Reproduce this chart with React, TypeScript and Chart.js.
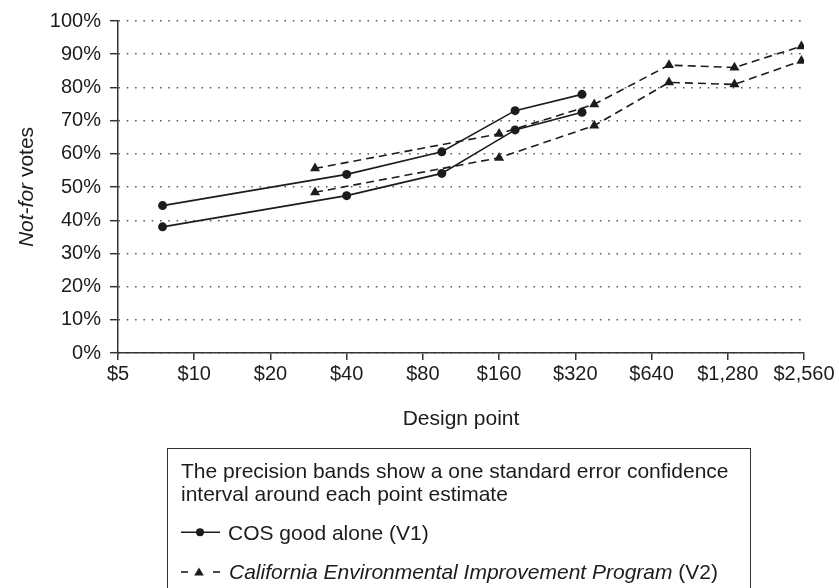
import React, { useEffect, useRef } from "react";
import { Chart, registerables } from "chart.js";

Chart.register(...registerables);

const FONT = "'Liberation Sans', Arial, Helvetica, sans-serif";

// Design points (dollars) and Not-for vote shares (%)
const xTickValues = [5, 10, 20, 40, 80, 160, 320, 640, 1280, 2560];
const yTickValues = [0, 10, 20, 30, 40, 50, 60, 70, 80, 90, 100];

const v1X = [7.5, 40, 95, 185, 340];
const v1Upper = [44.4, 53.8, 60.6, 73.0, 77.9];
const v1Lower = [38.0, 47.4, 54.1, 67.2, 72.5];

const v2X = [30, 160, 380, 750, 1360, 2500];
const v2Upper = [55.6, 66.0, 74.9, 86.7, 86.0, 92.4];
const v2Lower = [48.4, 58.8, 68.5, 81.5, 80.9, 88.0];

const legendNote1 = "The precision bands show a one standard error confidence";
const legendNote2 = "interval around each point estimate";
const legendV1 = "COS good alone (V1)";
const legendV2Italic = "California Environmental Improvement Program";
const legendV2Rest = " (V2)";

const INK = "#1c1c1c";

const titlesPlugin = {
  id: "axisTitles",
  afterDraw(chart: any) {
    const ctx = chart.ctx;
    const area = chart.chartArea;
    ctx.save();
    ctx.fillStyle = INK;
    // x title
    ctx.font = `21px ${FONT}`;
    ctx.textAlign = "center";
    ctx.textBaseline = "alphabetic";
    ctx.fillText("Design point", (area.left + area.right) / 2, 425);
    // y title (mixed italic)
    const cy = 187;
    ctx.translate(33, cy);
    ctx.rotate(-Math.PI / 2);
    ctx.textAlign = "left";
    ctx.font = `italic 21px ${FONT}`;
    const a = "Not-for";
    const wa = ctx.measureText(a).width;
    ctx.font = `21px ${FONT}`;
    const b = " votes";
    const wb = ctx.measureText(b).width;
    const start = -(wa + wb) / 2;
    ctx.font = `italic 21px ${FONT}`;
    ctx.fillText(a, start, 0);
    ctx.font = `21px ${FONT}`;
    ctx.fillText(b, start + wa, 0);
    ctx.restore();
  },
};

function App() {
  const ref = useRef<HTMLCanvasElement | null>(null);

  useEffect(() => {
    if (!ref.current) return;
    Chart.defaults.font.family = FONT;
    const mk = (xs: number[], ys: number[]) => xs.map((x, i) => ({ x, y: ys[i] }));
    const v1Style = {
      borderColor: INK,
      borderWidth: 1.6,
      pointStyle: "circle",
      pointRadius: 4.5,
      pointBackgroundColor: INK,
      pointBorderColor: INK,
      pointBorderWidth: 0,
      tension: 0,
      fill: false,
    };
    const v2Style = {
      borderColor: INK,
      borderWidth: 1.6,
      borderDash: [8, 5],
      pointStyle: "triangle",
      pointRadius: 5.8,
      pointBackgroundColor: INK,
      pointBorderColor: INK,
      pointBorderWidth: 0,
      tension: 0,
      fill: false,
    };
    const chart = new Chart(ref.current, {
      type: "line",
      data: {
        datasets: [
          { label: "V1 upper", data: mk(v1X, v1Upper), ...v1Style } as any,
          { label: "V1 lower", data: mk(v1X, v1Lower), ...v1Style } as any,
          { label: "V2 upper", data: mk(v2X, v2Upper), ...v2Style } as any,
          { label: "V2 lower", data: mk(v2X, v2Lower), ...v2Style } as any,
        ],
      },
      options: {
        animation: false,
        responsive: false,
        maintainAspectRatio: false,
        layout: { padding: { left: 0, top: 21, right: 35, bottom: 195 } },
        plugins: { legend: { display: false }, tooltip: { enabled: false } },
        scales: {
          x: {
            type: "logarithmic",
            min: 5,
            max: 2560,
            afterBuildTicks: (s: any) => {
              s.ticks = xTickValues.map((v) => ({ value: v }));
            },
            afterFit: (s: any) => {
              s.height = 40;
            },
            ticks: {
              autoSkip: false,
              maxRotation: 0,
              minRotation: 0,
              padding: 2,
              color: INK,
              font: { size: 20, family: FONT },
              callback: (v: any) => "$" + Number(v).toLocaleString("en-US"),
            },
            grid: {
              drawOnChartArea: false,
              tickLength: 7,
              color: "#333",
              lineWidth: 1.5,
            },
            border: { color: "#333", width: 1.5 },
          },
          y: {
            min: 0,
            max: 100,
            afterBuildTicks: (s: any) => {
              s.ticks = yTickValues.map((v) => ({ value: v }));
            },
            afterFit: (s: any) => {
              s.width = 118;
            },
            ticks: {
              padding: 9,
              color: INK,
              font: { size: 20, family: FONT },
              callback: (v: any) => v + "%",
            },
            grid: {
              color: "#555",
              lineWidth: 1.4,
              tickLength: 8,
              tickColor: "#333",
              tickWidth: 1.5,
              tickBorderDash: [],
            } as any,
            border: { color: "#333", width: 1.5, dash: [1.5, 6.8] } as any,
          },
        },
      } as any,
      plugins: [titlesPlugin],
    });
    return () => chart.destroy();
  }, []);

  const textStyle: React.CSSProperties = {
    position: "absolute",
    left: 181,
    font: `21px ${FONT}`,
    lineHeight: "24px",
    color: INK,
    whiteSpace: "nowrap",
    margin: 0,
  };

  return (
    <div
      style={{
        position: "absolute",
        left: 0,
        top: 0,
        width: 839,
        height: 588,
        overflow: "hidden",
        background: "#fff",
      }}
    >
      <canvas ref={ref} width={839} height={588} style={{ display: "block", width: 839, height: 588 }} />
      <div
        style={{
          position: "absolute",
          left: 167,
          top: 448,
          width: 584,
          height: 200,
          boxSizing: "border-box",
          border: "1.5px solid #333",
        }}
      />
      <div style={{ ...textStyle, top: 458.7 }}>{legendNote1}</div>
      <div style={{ ...textStyle, top: 482.4 }}>{legendNote2}</div>
      <svg
        width={40}
        height={60}
        style={{ position: "absolute", left: 180, top: 522 }}
      >
        <line x1={1} y1={10.3} x2={40} y2={10.3} stroke={INK} strokeWidth={1.6} />
        <circle cx={20} cy={10.3} r={4} fill={INK} />
        <line x1={1} y1={50} x2={8} y2={50} stroke={INK} strokeWidth={1.6} />
        <polygon points="19,45.5 23.8,53.5 14.2,53.5" fill={INK} />
        <line x1={33} y1={50} x2={40} y2={50} stroke={INK} strokeWidth={1.6} />
      </svg>
      <div style={{ ...textStyle, left: 228, top: 521.4 }}>{legendV1}</div>
      <div style={{ ...textStyle, left: 229, top: 560 }}>
        <span style={{ fontStyle: "italic" }}>{legendV2Italic}</span>
        <span>{legendV2Rest}</span>
      </div>
    </div>
  );
}

export default App;
